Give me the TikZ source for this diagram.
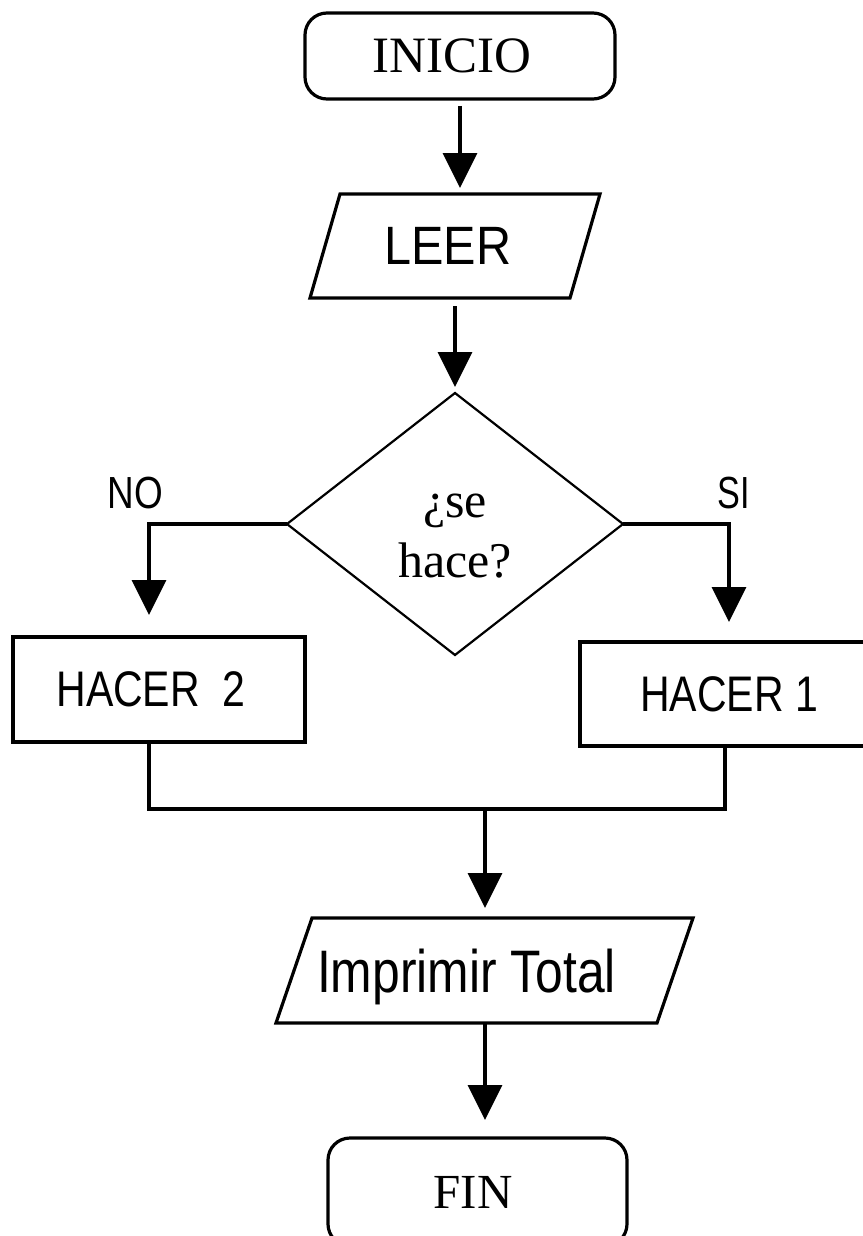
\documentclass[tikz,border=0pt]{standalone}
\usepackage{fontspec}
\setmainfont{Liberation Serif}
\newfontfamily\sansf{Liberation Sans}
\usepackage{graphicx}
\usetikzlibrary{shapes.geometric,arrows.meta,calc}
\begin{document}
\begin{tikzpicture}[x=1pt,y=-1pt,
  lw/.style={line width=3.2pt},
  term/.style={draw, lw, rounded corners=22pt, inner sep=0pt, outer sep=0pt, text depth=0pt},
  io/.style={inner sep=0pt, outer sep=0pt, text depth=0pt},
  proc/.style={draw, lw, inner sep=0pt, outer sep=0pt, text depth=0pt},
  decis/.style={draw, line width=2.2pt, diamond, inner sep=0pt, outer sep=0pt, aspect=1.28},
  conn/.style={lw},
  arr/.style={lw, -{Triangle[width=34pt,length=35pt]}},
  lbl/.style={inner sep=0pt, text depth=0pt}]

\useasboundingbox (0,0) rectangle (862,1236);
\fill[white] (0,0) rectangle (862,1236);

% terminals
\node[term, minimum width=310pt, minimum height=86pt] (inicio) at (460,56)
  {\fontsize{51}{60}\selectfont INICIO\hspace*{16pt}};
\node[term, minimum width=299pt, minimum height=108pt] (fin) at (477.5,1192)
  {\fontsize{49}{58}\selectfont FIN\hspace*{9pt}\raisebox{0pt}[0pt][6pt]{}};

% input / output
\node[io, minimum width=260pt, minimum height=104pt] (leer) at (455,246)
  {\sansf\fontsize{54}{60}\selectfont\scalebox{0.9}[1]{LEER}\hspace*{14pt}};
\draw[lw] ($(leer.north west)+(15,0)$) -- ($(leer.north east)+(15,0)$)
  -- ($(leer.south east)+(-15,0)$) -- ($(leer.south west)+(-15,0)$) -- cycle;

\node[io, minimum width=381pt, minimum height=105pt] (imp) at (484.5,970.5)
  {\sansf\fontsize{60}{66}\selectfont\scalebox{0.83}[1]{Imprimir Total}\hspace*{36pt}};
\draw[lw] ($(imp.north west)+(18,0)$) -- ($(imp.north east)+(18,0)$)
  -- ($(imp.south east)+(-18,0)$) -- ($(imp.south west)+(-18,0)$) -- cycle;

% decision
\node[decis, minimum width=336pt, minimum height=262pt] (dec) at (455,524)
  {\fontsize{50}{60}\selectfont\begin{tabular}{@{}c@{}}\rule{0pt}{64pt}¿se\\hace?\end{tabular}};

% processes
\node[proc, minimum width=292pt, minimum height=105pt] (hacer2) at (159,689.5)
  {\sansf\fontsize{50}{56}\selectfont\scalebox{0.82}[1]{HACER\ \ 2}\hspace*{16pt}};
\node[proc, minimum width=290pt, minimum height=104pt] (hacer1) at (725,694)
  {\hspace*{8pt}\sansf\fontsize{50}{56}\selectfont\scalebox{0.82}[1]{HACER 1}};

% branch labels
\node[lbl] (no) at (135.5,493) {\sansf\fontsize{45}{50}\selectfont\scalebox{0.82}[1]{NO}};
\node[lbl] (si) at (734,493) {\sansf\fontsize{45}{50}\selectfont\scalebox{0.76}[1]{SI}};

% connectors
\draw[arr, shorten <=7pt, shorten >=6pt] (inicio.south) -- (inicio.south |- leer.north);
\draw[arr, shorten <=8pt, shorten >=6pt] (leer.south) -- (dec.north);
\draw[arr, shorten >=22pt] (dec.west) -| ([xshift=-10pt]hacer2.north);
\draw[arr, shorten >=20pt] (dec.east) -| ([xshift=4pt]hacer1.north);
\coordinate (join) at (485,809);
\draw[conn] ([xshift=-10pt]hacer2.south) |- (join) -| (hacer1.south);
\draw[arr, shorten >=10pt] (join) -- (join |- imp.north);
\draw[arr, shorten >=18pt] (join |- imp.south) -- (join |- fin.north);
\end{tikzpicture}
\end{document}
